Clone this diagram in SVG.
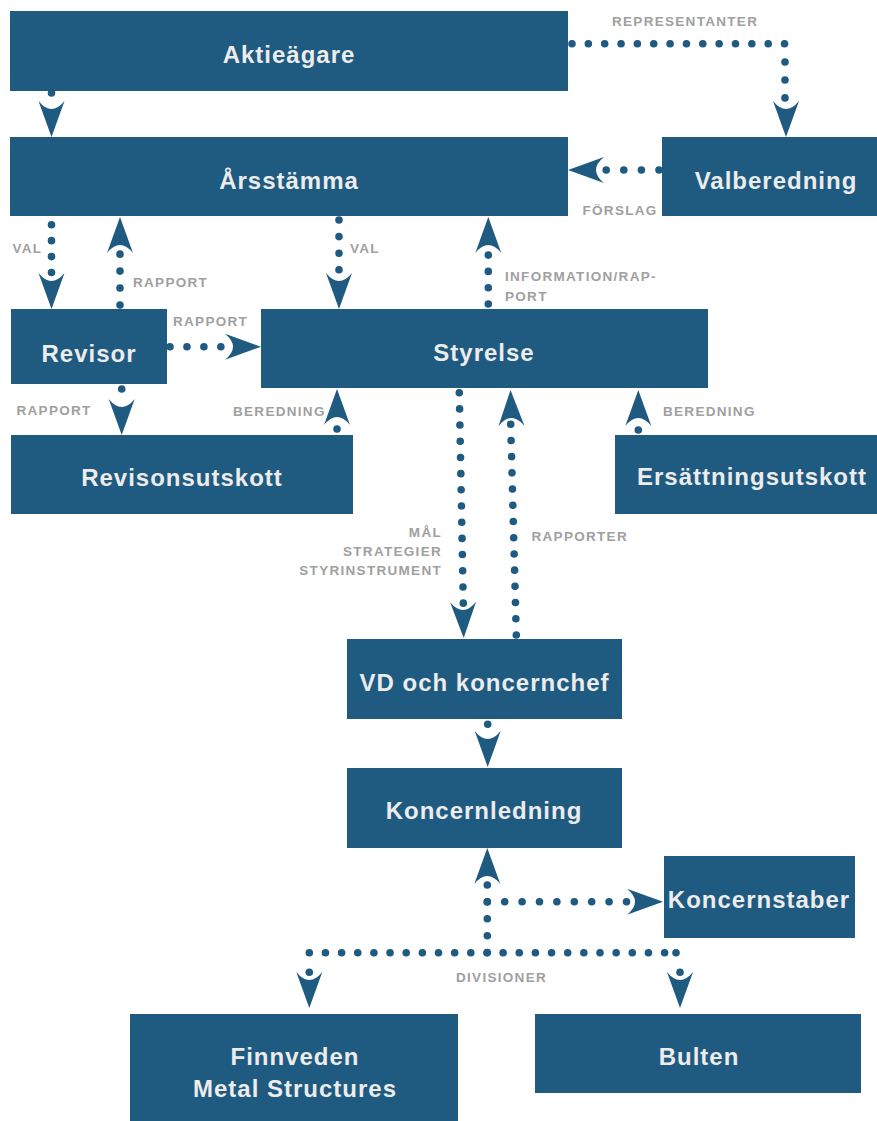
<svg xmlns="http://www.w3.org/2000/svg" xmlns:xlink="http://www.w3.org/1999/xlink" width="877" height="1121" viewBox="0 0 877 1121">
<style>
.box{fill:#1f5a80}
.t{font-family:"Liberation Sans",Arial,sans-serif;font-weight:bold;font-size:24px;fill:#ececec;text-anchor:middle;letter-spacing:1px}
.l{font-family:"Liberation Sans",Arial,sans-serif;font-weight:bold;font-size:13.5px;fill:#a0a0a0;letter-spacing:1.3px}
.d{fill:none;stroke:#1f5a80;stroke-width:7.6;stroke-linecap:round}
.dot{fill:#1f5a80}
.ah{fill:#1f5a80}
</style>
<defs>
<path id="ah" d="M0,0 L-13,-36 Q0,-20 13,-36 Z"/>
</defs>
<rect width="877" height="1121" fill="#ffffff"/>

<g id="n-aktieagare"><rect class="box" x="10" y="11" width="558" height="80"/><text class="t" x="289" y="63">Aktieägare</text></g>
<g id="n-arsstamma"><rect class="box" x="10" y="137" width="558" height="79"/><text class="t" x="289" y="189">Årsstämma</text></g>
<g id="n-valberedning"><rect class="box" x="662" y="137" width="215" height="79"/><text class="t" x="776" y="189">Valberedning</text></g>
<g id="n-revisor"><rect class="box" x="11" y="309" width="156" height="75"/><text class="t" x="89" y="362">Revisor</text></g>
<g id="n-styrelse"><rect class="box" x="261" y="309" width="447" height="79"/><text class="t" x="484" y="361">Styrelse</text></g>
<g id="n-revisonsutskott"><rect class="box" x="11" y="435" width="342" height="79"/><text class="t" x="182" y="486">Revisonsutskott</text></g>
<g id="n-ersattningsutskott"><rect class="box" x="615" y="435" width="262" height="79"/><text class="t" x="752" y="485">Ersättningsutskott</text></g>
<g id="n-vd"><rect class="box" x="347" y="639" width="275" height="80"/><text class="t" x="484.5" y="691">VD och koncernchef</text></g>
<g id="n-koncernledning"><rect class="box" x="347" y="768" width="275" height="80"/><text class="t" x="484" y="819">Koncernledning</text></g>
<g id="n-koncernstaber"><rect class="box" x="664" y="856" width="191" height="82"/><text class="t" x="759" y="908">Koncernstaber</text></g>
<g id="n-finnveden"><rect class="box" x="130" y="1014" width="328" height="107"/><text class="t" x="295" y="1065">Finnveden</text><text class="t" x="295" y="1097">Metal Structures</text></g>
<g id="n-bulten"><rect class="box" x="535" y="1014" width="326" height="79"/><text class="t" x="699" y="1065">Bulten</text></g>

<g id="connectors">
  <!-- Aktieägare -> Årsstämma -->
  <circle class="dot" cx="51.5" cy="93" r="3.8"/>
  <use xlink:href="#ah" class="ah" transform="translate(51.5,137)"/>
  <!-- Aktieägare -> Valberedning -->
  <path class="d" d="M572,43.7 H785" stroke-dasharray="0 16.35"/>
  <path class="d" d="M785,62 V98" stroke-dasharray="0 17.95"/>
  <use xlink:href="#ah" class="ah" transform="translate(786,137)"/>
  <!-- Valberedning -> Årsstämma -->
  <path class="d" d="M659,170 H606" stroke-dasharray="0 17.6"/>
  <use xlink:href="#ah" class="ah" transform="translate(568,170) rotate(90)"/>
  <!-- Årsstämma -> Revisor -->
  <path class="d" d="M51.5,224.7 V272.7" stroke-dasharray="0 15.95"/>
  <use xlink:href="#ah" class="ah" transform="translate(51.5,309)"/>
  <!-- Revisor -> Årsstämma -->
  <path class="d" d="M120,305 V254" stroke-dasharray="0 16.95"/>
  <use xlink:href="#ah" class="ah" transform="translate(120,217) rotate(180)"/>
  <!-- Revisor -> Styrelse -->
  <path class="d" d="M170,346.7 H221" stroke-dasharray="0 16.95"/>
  <use xlink:href="#ah" class="ah" transform="translate(261,346.7) rotate(-90)"/>
  <!-- Revisor -> Revisonsutskott -->
  <circle class="dot" cx="121.7" cy="389" r="3.8"/>
  <use xlink:href="#ah" class="ah" transform="translate(121.7,435)"/>
  <!-- Revisonsutskott -> Styrelse -->
  <circle class="dot" cx="337" cy="429" r="3.8"/>
  <use xlink:href="#ah" class="ah" transform="translate(337,389) rotate(180)"/>
  <!-- Årsstämma -> Styrelse -->
  <path class="d" d="M339,220 V270" stroke-dasharray="0 16.6"/>
  <use xlink:href="#ah" class="ah" transform="translate(339,309)"/>
  <!-- Styrelse -> Årsstämma -->
  <path class="d" d="M488.3,304 V255" stroke-dasharray="0 16.3"/>
  <use xlink:href="#ah" class="ah" transform="translate(488.3,217) rotate(180)"/>
  <!-- Styrelse -> VD -->
  <path class="d" d="M459.3,392.7 L463.3,603.3" stroke-dasharray="0 16.19"/>
  <use xlink:href="#ah" class="ah" transform="translate(463.7,638) rotate(-1)"/>
  <!-- VD -> Styrelse -->
  <path class="d" d="M516.3,635 L510.7,424" stroke-dasharray="0 16.22"/>
  <use xlink:href="#ah" class="ah" transform="translate(510.5,390) rotate(178.5)"/>
  <!-- Ersättningsutskott -> Styrelse -->
  <circle class="dot" cx="638.3" cy="430" r="3.8"/>
  <use xlink:href="#ah" class="ah" transform="translate(638.3,390) rotate(180)"/>
  <!-- VD -> Koncernledning -->
  <circle class="dot" cx="487.7" cy="724.3" r="3.8"/>
  <use xlink:href="#ah" class="ah" transform="translate(487.7,767)"/>
  <!-- Divisioner / Koncernstaber -> Koncernledning -->
  <path class="d" d="M487.3,885 V952.7" stroke-dasharray="0 16.9"/>
  <use xlink:href="#ah" class="ah" transform="translate(487.3,848) rotate(180)"/>
  <path class="d" d="M487.3,901.7 H626.7" stroke-dasharray="0 17.4"/>
  <use xlink:href="#ah" class="ah" transform="translate(663,901.7) rotate(-90)"/>
  <path class="d" d="M309.3,952.7 H665" stroke-dasharray="0 16.15"/>
  <circle class="dot" cx="676" cy="952.7" r="3.8"/>
  <circle class="dot" cx="309.3" cy="972.3" r="3.8"/>
  <use xlink:href="#ah" class="ah" transform="translate(309.3,1008)"/>
  <circle class="dot" cx="680" cy="972.3" r="3.8"/>
  <use xlink:href="#ah" class="ah" transform="translate(680,1008)"/>
</g>

<g id="labels">
  <text class="l" x="612" y="26">REPRESENTANTER</text>
  <text class="l" x="582.5" y="214.5">FÖRSLAG</text>
  <text class="l" x="12.5" y="253">VAL</text>
  <text class="l" x="133" y="287.3">RAPPORT</text>
  <text class="l" x="173" y="326">RAPPORT</text>
  <text class="l" x="350" y="253">VAL</text>
  <text class="l" x="505" y="280.7">INFORMATION/RAP-</text>
  <text class="l" x="505" y="301">PORT</text>
  <text class="l" x="16.5" y="415">RAPPORT</text>
  <text class="l" x="233" y="415.7">BEREDNING</text>
  <text class="l" x="663" y="415.5">BEREDNING</text>
  <text class="l" x="442" y="537.3" text-anchor="end">MÅL</text>
  <text class="l" x="442" y="556.3" text-anchor="end">STRATEGIER</text>
  <text class="l" x="442" y="575.3" text-anchor="end">STYRINSTRUMENT</text>
  <text class="l" x="531.5" y="541">RAPPORTER</text>
  <text class="l" x="456" y="981.7">DIVISIONER</text>
</g>
</svg>
